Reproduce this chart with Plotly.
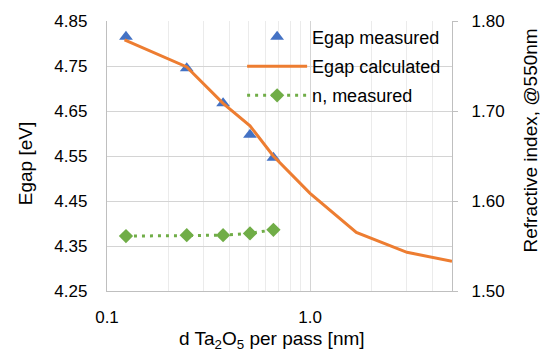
import plotly.graph_objects as go

# Data
x_meas = [0.124, 0.247, 0.373, 0.506, 0.66]
egap_meas = [4.815, 4.745, 4.667, 4.597, 4.546]
x_calc = [0.122, 0.247, 0.373, 0.506, 0.659, 1.0, 1.69, 3.0, 5.0]
egap_calc = [4.808, 4.748, 4.667, 4.617, 4.550, 4.467, 4.380, 4.336, 4.316]
n_meas = [1.561, 1.562, 1.562, 1.564, 1.568]

y_ticks = [4.25, 4.35, 4.45, 4.55, 4.65, 4.75, 4.85]
y2_ticks = [1.50, 1.60, 1.70, 1.80]
x_ticks = [0.1, 1.0]
x_ticktext = ["0.1", "1.0"]
x_minor = [0.2, 0.3, 0.4, 0.5, 0.6, 0.7, 0.8, 0.9, 2, 3, 4, 5]

FONT = "Liberation Sans, Arial, sans-serif"
fig = go.Figure()

fig.add_trace(go.Scatter(
    x=x_meas, y=egap_meas, mode="markers", name="Egap measured",
    marker=dict(symbol="triangle-up", size=12, color="#4472C4"),
    legend="legend"))
fig.add_trace(go.Scatter(
    x=x_calc, y=egap_calc, mode="lines", name="Egap calculated",
    line=dict(color="#ED7D31", width=3), legend="legend2"))
fig.add_trace(go.Scatter(
    x=x_meas, y=n_meas, mode="lines+markers", name="n, measured",
    marker=dict(symbol="diamond", size=11, color="#70AD47"),
    line=dict(color="#70AD47", width=3, dash="3px,5px"),
    yaxis="y2", legend="legend3"))

L, R, T, B = 107, 451.7, 16.5, 290.7
W, H = 540, 356
pw, ph = R - L, B - T

def px_x(px):
    return (px - L) / pw

def px_y(py):
    return (B - py) / ph

leg_common = dict(font=dict(family=FONT, size=18, color="#000000"),
                  bgcolor="rgba(0,0,0,0)", xanchor="left", yanchor="middle",
                  itemwidth=60, tracegroupgap=0)
fig.update_layout(
    width=W, height=H,
    margin=dict(l=L, r=W - R, t=T, b=H - B, pad=0),
    paper_bgcolor="white", plot_bgcolor="white",
    font=dict(family=FONT, size=16, color="#000000"),
    showlegend=True,
    legend=dict(x=px_x(242), y=px_y(32.7), **leg_common),
    legend2=dict(x=px_x(242), y=px_y(62.7), **leg_common),
    legend3=dict(x=px_x(242), y=px_y(92.3), **leg_common),
    xaxis=dict(type="log", range=[-1, 0.69897],
               tickvals=x_ticks, ticktext=x_ticktext,
               showgrid=True, gridcolor="#d4d4d4", gridwidth=1,
               minor=dict(tickvals=x_minor, showgrid=True, gridcolor="#ebebeb", gridwidth=1),
               showline=True, linecolor="#bfbfbf", linewidth=1.3,
               ticks="", ticklabelstandoff=10,
               tickfont=dict(family=FONT, size=17, color="#000000"),
               zeroline=False),
    yaxis=dict(range=[4.25, 4.85], tickvals=y_ticks, tickformat=".2f",
               showgrid=True, gridcolor="#d4d4d4", gridwidth=1.3,
               showline=True, linecolor="#bfbfbf", linewidth=1.3,
               ticks="", ticklabelstandoff=15,
               tickfont=dict(family=FONT, size=17, color="#000000"),
               zeroline=False),
    yaxis2=dict(range=[1.50, 1.80], tickvals=y2_ticks, tickformat=".2f",
                overlaying="y", side="right", showgrid=False,
                showline=True, linecolor="#bfbfbf", linewidth=1.3,
                ticks="outside", ticklen=5, tickcolor="#bfbfbf",
                ticklabelstandoff=10,
                tickfont=dict(family=FONT, size=17, color="#000000"),
                zeroline=False),
    annotations=[
        dict(text="Egap [eV]", xref="paper", yref="paper",
             x=px_x(25), y=px_y(161), textangle=-90, showarrow=False,
             xanchor="center", yanchor="middle",
             font=dict(family=FONT, size=19, color="#000000")),
        dict(text="Refractive index, @550nm", xref="paper", yref="paper",
             x=px_x(530), y=px_y(137.5), textangle=-90, showarrow=False,
             xanchor="center", yanchor="middle",
             font=dict(family=FONT, size=19, color="#000000")),
        dict(text="d Ta<sub>2</sub>O<sub>5</sub> per pass [nm]", xref="paper", yref="paper",
             x=px_x(271.5), y=px_y(340), showarrow=False,
             xanchor="center", yanchor="middle",
             font=dict(family=FONT, size=19, color="#000000")),
    ],
)

fig.write_html("out.html")
